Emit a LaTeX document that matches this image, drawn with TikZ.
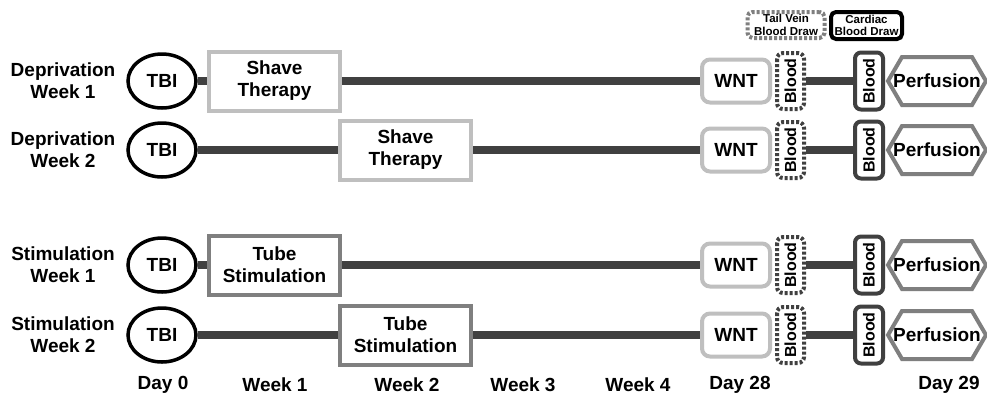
\documentclass[tikz,border=0pt]{standalone}
\usepackage{fontspec}
\setmainfont{Liberation Sans}
\usetikzlibrary{shapes.geometric,calc}
\pgfdeclarelayer{background}
\pgfdeclarelayer{canvas}
\pgfsetlayers{canvas,background,main}
\definecolor{dk}{HTML}{404040}
\definecolor{lg}{HTML}{BFBFBF}
\definecolor{md}{HTML}{7F7F7F}
\begin{document}
\begin{tikzpicture}[x=1pt,y=-1pt,
  every node/.style={font=\bfseries\fontsize{19}{22}\selectfont, text=black},
  rowlabel/.style={align=center, inner sep=0pt},
  tl/.style={line width=8pt, draw=dk},
  tbi/.style={ellipse, draw=black, line width=3.5pt, minimum width=68pt, minimum height=54pt, inner sep=0pt, fill=white},
  shavebox/.style={rectangle, draw=lg, line width=4pt, minimum width=131pt, minimum height=59pt, inner sep=0pt, fill=white, align=center},
  tubebox/.style={shavebox, draw=md},
  wntbox/.style={rectangle, rounded corners=8pt, draw=lg, line width=4pt, minimum width=68pt, minimum height=43pt, inner sep=0pt, fill=white},
  tailblood/.style={rectangle, rounded corners=6pt, draw=dk, line width=4pt, dash pattern=on 3pt off 2pt, rotate=90, minimum width=56pt, minimum height=27pt, inner sep=0pt, fill=white, font=\bfseries\fontsize{16}{18}\selectfont},
  cardblood/.style={rectangle, rounded corners=6pt, draw=dk, line width=4pt, rotate=90, minimum width=57pt, minimum height=28pt, inner sep=0pt, fill=white, font=\bfseries\fontsize{16}{18}\selectfont},
  perftext/.style={inner sep=0pt},
  perfhex/.style={draw=md, line width=4pt, line join=miter, fill=white},
  legtail/.style={rectangle, rounded corners=5pt, draw=md, line width=4pt, dash pattern=on 3pt off 2pt, minimum width=77pt, minimum height=26pt, inner sep=0pt, align=center, font=\bfseries\fontsize{11.5}{12.5}\selectfont},
  legcard/.style={rectangle, rounded corners=5pt, draw=black, line width=4pt, minimum width=71pt, minimum height=27pt, inner sep=0pt, align=center, font=\bfseries\fontsize{11.5}{12.5}\selectfont},
  daylabel/.style={inner sep=0pt}
]
\begin{pgfonlayer}{canvas}
\fill[white] (0,0) rectangle (987,400);
\end{pgfonlayer}
\useasboundingbox (0,0) rectangle (987,400);

% legend
\node[legtail] (legT) at (786,25) {Tail Vein\\Blood Draw};
\node[legcard] (legC) at (866.5,25.5) {Cardiac\\Blood Draw};

% rows
\foreach \r/\y/\lab/\wk/\sty/\txt/\bx in {
  1/81/Deprivation/1/shavebox/{Shave\\Therapy}/274.5,
  2/150/Deprivation/2/shavebox/{Shave\\Therapy}/405.5,
  3/265/Stimulation/1/tubebox/{Tube\\Stimulation}/274.5,
  4/335/Stimulation/2/tubebox/{Tube\\Stimulation}/405.5}{
  \node[rowlabel] (lab\r) at (63,\y) {\lab\\Week \wk};
  \node[tbi] (tbi\r) at (162,\y) {TBI};
  \node[\sty] (trt\r) at (\bx,\y) {\txt};
  \node[wntbox] (wnt\r) at (736,\y) {WNT};
  \node[tailblood] (tb\r) at (790.5,\y) {Blood};
  \node[cardblood] (cb\r) at (869,\y) {Blood};
  \node[perftext] (pf\r) at (937,\y) {};
  \draw[perfhex] ($(pf\r)+(-49,0)$) -- ++(14,-24) -- ++(70,0) -- ++(14,24) -- ++(-14,24) -- ++(-70,0) -- cycle;
  \node[perftext] (pft\r) at (937,\y) {Perfusion};
  \begin{pgfonlayer}{background}
    \draw[tl] (tbi\r) -- (trt\r);
    \draw[tl] (trt\r) -- (wnt\r);
    \draw[tl] (tb\r) -- (cb\r);
  \end{pgfonlayer}
}

% day labels
\node[daylabel] (d0) at (163,385) {Day 0};
\node[daylabel] (w1) at (275,385) {Week 1};
\node[daylabel] (w2) at (407,385) {Week 2};
\node[daylabel] (w3) at (523,385) {Week 3};
\node[daylabel] (w4) at (638,385) {Week 4};
\node[daylabel] (d28) at (740,385) {Day 28};
\node[daylabel] (d29) at (949,385) {Day 29};
\end{tikzpicture}
\end{document}
